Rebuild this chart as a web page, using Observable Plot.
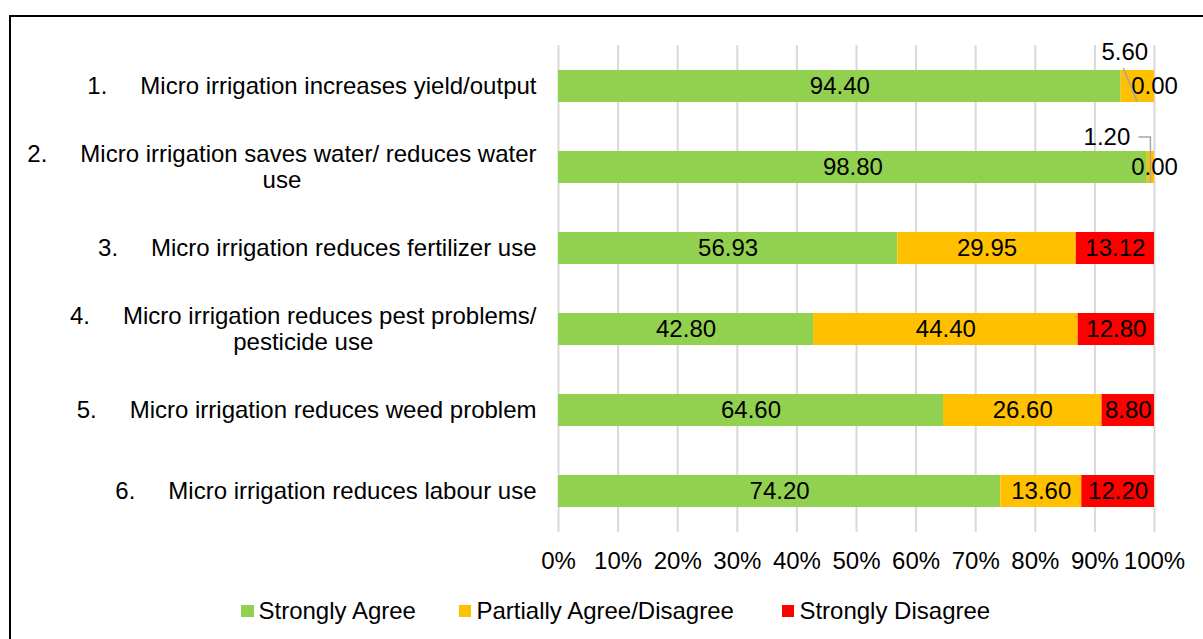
<!DOCTYPE html>
<html><head><meta charset="utf-8">
<script src="https://cdn.jsdelivr.net/npm/d3@7"></script>
<script src="https://cdn.jsdelivr.net/npm/@observablehq/plot@0.6"></script>
<style>
body{margin:0;background:#fff;overflow:hidden;font-family:"Liberation Sans",Arial,sans-serif;}
#wrap{position:relative;width:1203px;height:639px;overflow:hidden;background:#fff}
#frame{position:absolute;left:9px;top:15px;width:1300px;height:800px;border:2.5px solid #000;box-sizing:border-box;pointer-events:none}
#chart{position:absolute;left:0;top:0}
#legend{position:absolute;left:241px;top:598px;height:26px;display:flex;align-items:center;font-size:24px;color:#000;white-space:nowrap}
#legend .item{display:flex;align-items:center}
#legend .sw{width:12.5px;height:12.5px;margin-right:5px}
#err{position:absolute;left:20px;top:20px;font-size:12px;color:#c00}
</style></head><body>
<div id="wrap"><div id="chart"></div><div id="legend"></div><div id="frame"></div><div id="err"></div></div>
<script>
// ---- data ----
const numbers = ["1.", "2.", "3.", "4.", "5.", "6."];
const statements = [
  "Micro irrigation increases yield/output",
  "Micro irrigation saves water/ reduces water use",
  "Micro irrigation reduces fertilizer use",
  "Micro irrigation reduces pest problems/ pesticide use",
  "Micro irrigation reduces weed problem",
  "Micro irrigation reduces labour use"
];
const labelLines = [
  ["Micro irrigation increases yield/output"],
  ["Micro irrigation saves water/ reduces water", "use"],
  ["Micro irrigation reduces fertilizer use"],
  ["Micro irrigation reduces pest problems/", "pesticide use"],
  ["Micro irrigation reduces weed problem"],
  ["Micro irrigation reduces labour use"]
];
const series = ["Strongly Agree", "Partially Agree/Disagree", "Strongly Disagree"];
const colors = ["#92D050", "#FFC000", "#FF0000"];
const stronglyAgree = [94.40, 98.80, 56.93, 42.80, 64.60, 74.20];
const partiallyAgree = [5.60, 1.20, 29.95, 44.40, 26.60, 13.60];
const stronglyDisagree = [0.00, 0.00, 13.12, 12.80, 8.80, 12.20];
const xTicks = [0, 10, 20, 30, 40, 50, 60, 70, 80, 90, 100];

// ---- build table ----
const FS = 24;
const FONT = '"Liberation Sans", Arial, sans-serif';
const values = [stronglyAgree, partiallyAgree, stronglyDisagree];
const rows = [];
statements.forEach((cat, i) => {
  let acc = 0;
  series.forEach((s, j) => {
    const v = values[j][i];
    rows.push({cat, i, series: s, j, value: v, x1: acc, x2: acc + v});
    acc += v;
  });
});
const isMoved = d => d.j === 1 && (d.i === 0 || d.i === 1);
const mid = d => (d.x1 + d.x2) / 2;

const ctx = document.createElement("canvas").getContext("2d");
ctx.font = `${FS}px ${FONT}`;
const tw = s => ctx.measureText(s).width;

const GAP = 22, NUMGAP = 53, LINE = 13;
const labelMarks = [];
statements.forEach((cat, i) => {
  const lines = labelLines[i];
  const w = tw(lines[0]);
  const dy0 = lines.length > 1 ? -LINE : 0;
  labelMarks.push(Plot.text([cat], {y: d => d, frameAnchor: "left", textAnchor: "end", dx: -GAP, dy: dy0, text: () => lines[0], fontSize: FS}));
  labelMarks.push(Plot.text([cat], {y: d => d, frameAnchor: "left", textAnchor: "start", dx: -(GAP + w + NUMGAP), dy: dy0, text: () => numbers[i], fontSize: FS}));
  if (lines.length > 1) {
    labelMarks.push(Plot.text([cat], {y: d => d, frameAnchor: "left", textAnchor: "middle", dx: -(GAP + (w + NUMGAP) / 2), dy: LINE, text: () => lines[1], fontSize: FS}));
  }
});

// leader lines for the two displaced labels, positioned through the scales
const SVGNS = "http://www.w3.org/2000/svg";
function leaders(index, scales) {
  const g = document.createElementNS(SVGNS, "g");
  try {
    const ys = scales.y;
    let bw = ys.bandwidth;
    if (typeof bw === "function") bw = bw();
    if (!(bw > 0)) bw = 32;
    const r0 = rows.find(d => d.i === 0 && d.j === 1);
    const r1 = rows.find(d => d.i === 1 && d.j === 1);
    const x0 = scales.x(mid(r0)), yc0 = ys(r0.cat) + bw / 2;
    const x1 = scales.x(mid(r1)), yc1 = ys(r1.cat) + bw / 2;
    const paths = [
      `M${x0 - 14},${yc0 - 18}L${x0},${yc0 + 16}`,
      `M${x1 - 12},${yc1 - 30}L${x1},${yc1 - 30}L${x1},${yc1 + 16}`
    ];
    for (const d of paths) {
      const p = document.createElementNS(SVGNS, "path");
      p.setAttribute("d", d);
      p.setAttribute("stroke", "#A6A6A6");
      p.setAttribute("stroke-width", "1.5");
      p.setAttribute("fill", "none");
      g.appendChild(p);
    }
  } catch (e) {
    document.getElementById("err").textContent = "leader error: " + e;
  }
  return g;
}

try {
const chart = Plot.plot({
  width: 1203,
  height: 590,
  marginLeft: 558,
  marginRight: 49,
  marginTop: 45,
  marginBottom: 58,
  style: {fontFamily: FONT, fontSize: FS + "px", color: "#000", background: "transparent", overflow: "visible"},
  x: {domain: [0, 100], label: null},
  y: {domain: statements, paddingInner: 0.606, paddingOuter: 0.303, axis: null, label: null},
  color: {domain: series, range: colors},
  marks: [
    Plot.ruleX(xTicks, {stroke: "#D9D9D9", strokeWidth: 2}),
    Plot.axisX(xTicks, {tickSize: 0, tickPadding: 19, tickFormat: d => d + "%", fontSize: FS, label: null}),
    Plot.barX(rows, {x1: "x1", x2: "x2", y: "cat", fill: "series"}),
    Plot.text(rows.filter(d => !isMoved(d)), {x: mid, y: "cat", text: d => d.value.toFixed(2), fill: "#000", fontSize: FS}),
    Plot.text(rows.filter(d => d.i === 0 && d.j === 1), {x: mid, y: "cat", text: d => d.value.toFixed(2), fill: "#000", fontSize: FS, dx: -13, dy: -34}),
    Plot.text(rows.filter(d => d.i === 1 && d.j === 1), {x: mid, y: "cat", text: d => d.value.toFixed(2), fill: "#000", fontSize: FS, dx: -44, dy: -30}),
    leaders,
    ...labelMarks
  ]
});
document.getElementById("chart").appendChild(chart);
} catch (e) {
  document.getElementById("err").textContent = "plot error: " + e;
}

const legendGaps = [43, 48, 0];
const legend = d3.select("#legend");
series.forEach((s, j) => {
  const it = legend.append("div").attr("class", "item").style("margin-right", legendGaps[j] + "px");
  it.append("div").attr("class", "sw").style("background", colors[j]);
  it.append("span").text(s);
});
</script>
</body></html>
